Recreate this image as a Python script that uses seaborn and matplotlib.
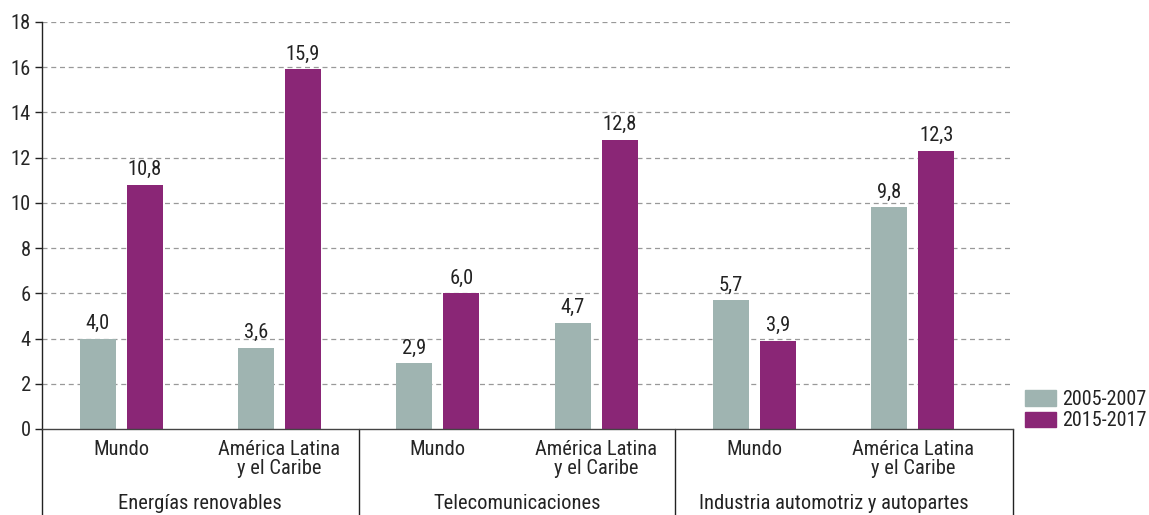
import pandas as pd
import matplotlib
matplotlib.use('Agg')
import matplotlib.pyplot as plt
import seaborn as sns

# --- Data ---
sectors = ['Energías renovables', 'Telecomunicaciones', 'Industria automotriz y autopartes']
regions = ['Mundo', 'América Latina\ny el Caribe']
periods = ['2005-2007', '2015-2017']
values_2005 = [4.0, 3.6, 2.9, 4.7, 5.7, 9.8]
values_2015 = [10.8, 15.9, 6.0, 12.8, 3.9, 12.3]
colors = ['#9fb4b1', '#8a2676']

rows = []
keys = []
for i, sector in enumerate(sectors):
    for j, region in enumerate(regions):
        key = f'{sector}|{region}'
        keys.append(key)
        k = i * 2 + j
        rows.append({'key': key, 'Periodo': periods[0], 'valor': values_2005[k]})
        rows.append({'key': key, 'Periodo': periods[1], 'valor': values_2015[k]})
df = pd.DataFrame(rows)

sns.set_style('white')
plt.rcParams['font.family'] = ['Roboto Condensed', 'Roboto', 'DejaVu Sans']
plt.rcParams['text.color'] = '#222222'

fs = 14.8

fig = plt.figure(figsize=(11.49, 5.15), dpi=100)
ax = fig.add_axes([42 / 1149, 1 - 429 / 515, (1013 - 42) / 1149, 407 / 515])

sns.barplot(data=df, x='key', y='valor', hue='Periodo', order=keys, hue_order=periods,
            palette=colors, width=0.593, gap=0.234, ax=ax, legend=False,
            saturation=1, edgecolor='none')

ax.set_ylim(0, 18)
ax.set_xlim(-0.5, 5.633)
ax.set_yticks(range(0, 19, 2))
ax.tick_params(axis='y', direction='out', length=5, width=1, color='#222222',
               labelsize=fs, pad=3, left=True)
for y in range(2, 19, 2):
    ax.axhline(y, color='#999999', linestyle=(0, (4, 3)), linewidth=0.9, zorder=0)

for side in ['top', 'right']:
    ax.spines[side].set_visible(False)
ax.spines['left'].set_color('#222222')
ax.spines['bottom'].set_color('#444444')
ax.spines['left'].set_linewidth(1)
ax.spines['bottom'].set_linewidth(1)

# value labels
for container in ax.containers:
    ax.bar_label(container, labels=[f'{v:.1f}'.replace('.', ',') for v in container.datavalues],
                 padding=4, fontsize=fs)

# subcategory labels
ax.set_xticks(range(len(keys)))
ax.set_xticklabels([k.split('|')[1] for k in keys], fontsize=fs, linespacing=1.0)
ax.tick_params(axis='x', length=0, pad=8)
ax.set_xlabel('')
ax.set_ylabel('')

# group labels and separators
for i, sector in enumerate(sectors):
    ax.text(2 * i + 0.5, -0.182, sector, transform=ax.get_xaxis_transform(),
            ha='center', va='center', fontsize=fs)
for xpos in [-0.5, 1.5, 3.5, 5.633]:
    ax.plot([xpos, xpos], [0, -0.22], transform=ax.get_xaxis_transform(),
            color='#222222', linewidth=1, clip_on=False)

# legend
handles = [plt.Rectangle((0, 0), 1, 1, color=c) for c in colors]
fig.legend(handles, periods, loc='upper left', bbox_to_anchor=(1017 / 1149, 1 - 382 / 515),
           frameon=False, fontsize=14.5, handlelength=1.55, handleheight=0.8,
           handletextpad=0.3, labelspacing=0.12, borderaxespad=0)

fig.savefig('out.png', dpi=100)
